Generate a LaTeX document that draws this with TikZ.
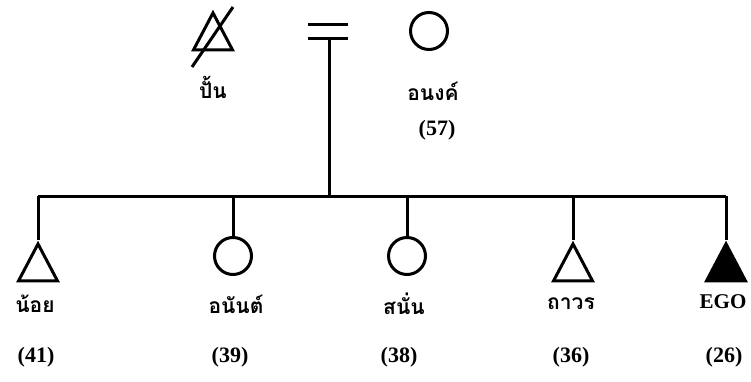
\documentclass[tikz,border=0pt]{standalone}
\usepackage{fontspec}
\setmainfont{Liberation Serif}
\newfontfamily\thaifont[Script=Thai]{Loma}
\usetikzlibrary{shapes.geometric}
\tikzset{
  ln/.style={line width=3pt},
  male/.style={draw, line width=3pt, shape=isosceles triangle, shape border rotate=90,
    isosceles triangle stretches, minimum width=39pt, minimum height=37pt, inner sep=0pt, anchor=apex},
  female/.style={draw, line width=3pt, circle, minimum size=37pt, inner sep=0pt},
  thl/.style={font=\thaifont\bfseries\fontsize{21}{24}\selectfont, inner sep=0pt},
  num/.style={font=\bfseries\fontsize{22}{25}\selectfont, inner sep=0pt},
  egol/.style={font=\bfseries\fontsize{21}{24}\selectfont, inner sep=0pt},
}
\begin{document}
\begin{tikzpicture}[x=1pt,y=-1pt]
\useasboundingbox (0,0) rectangle (751,382);
% parents
\node[male] (pun) at (213,9) {};
\draw[ln] (192,67) -- (233,7);
\node[thl] (punL) at (213,87) {ปั้น};
\node[female] (anong) at (429,31) {};
\node[thl] (anongL) at (433,91) {อนงค์};
\node[num] (anongA) at (437,130) {(57)};
% marriage
\coordinate (m1a) at (308,25); \coordinate (m1b) at (348,25);
\coordinate (m2a) at (308,39); \coordinate (m2b) at (348,39);
\coordinate (m) at (329,39);
\coordinate (bar) at (329,196);
\draw[ln] (m1a) -- (m1b);
\draw[ln] (m2a) -- (m2b);
\draw[ln] (m) -- (bar);
% sibling bar
\coordinate (b1) at (38,196);
\coordinate (b2) at (233,196);
\coordinate (b3) at (407,196);
\coordinate (b4) at (573,196);
\coordinate (b5) at (726,196);
\draw[ln] (b1) -- (b5);
% children
\node[male] (noi) at (38,240) {};
\node[female] (anan) at (233,256) {};
\node[female] (sanan) at (407,256) {};
\node[male] (thaworn) at (573,240) {};
\node[male, fill=black] (ego) at (726,240) {};
\draw[ln] (b1) -- (noi.apex);
\draw[ln] (b2) -- (anan.north);
\draw[ln] (b3) -- (sanan.north);
\draw[ln] (b4) -- (thaworn.apex);
\draw[ln] (b5) -- (ego.apex);
% labels
\node[thl] (noiL) at (35,304) {น้อย};
\node[thl] (ananL) at (236,304) {อนันต์};
\node[thl] (sananL) at (404,304) {สนั่น};
\node[thl] (thawornL) at (571,304) {ถาวร};
\node[egol] (egoL) at (723,302) {EGO};
\node[num] (noiA) at (36,357) {(41)};
\node[num] (ananA) at (230,357) {(39)};
\node[num] (sananA) at (399,357) {(38)};
\node[num] (thawornA) at (571,357) {(36)};
\node[num] (egoA) at (724,357) {(26)};
\end{tikzpicture}
\end{document}
